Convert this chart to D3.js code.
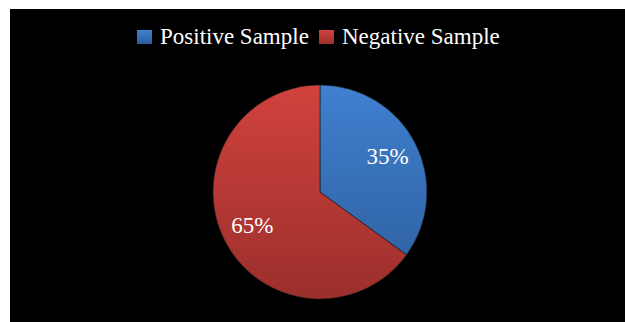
<!DOCTYPE html>
<html>
<head>
<meta charset="utf-8">
<script src="https://cdn.jsdelivr.net/npm/d3@7"></script>
<style>
  html, body { margin: 0; padding: 0; background: #ffffff; }
  svg { display: block; }
</style>
</head>
<body>
<svg id="chart" width="625" height="322"></svg>
<script>
// Sample composition
const categories = ["Positive Sample", "Negative Sample"];
const values = [35, 65];
const labels = ["35%", "65%"];
const colorTop = ["#3f80d0", "#d1423e"];
const colorBottom = ["#2d5d9b", "#9b2f2b"];

const svg = d3.select("#chart");
const W = 625, H = 322;

// black chart area
svg.append("rect").attr("x", 10).attr("y", 9).attr("width", W - 10).attr("height", H - 9).attr("fill", "#000");

const defs = svg.append("defs");
categories.forEach((c, i) => {
  const g = defs.append("linearGradient").attr("id", "grad" + i)
    .attr("gradientUnits", "userSpaceOnUse")
    .attr("x1", 0).attr("y1", -107).attr("x2", 0).attr("y2", 107);
  g.append("stop").attr("offset", "0%").attr("stop-color", colorTop[i]);
  g.append("stop").attr("offset", "100%").attr("stop-color", colorBottom[i]);
  const lg = defs.append("linearGradient").attr("id", "lgrad" + i)
    .attr("x1", 0).attr("y1", 0).attr("x2", 0).attr("y2", 1);
  lg.append("stop").attr("offset", "0%").attr("stop-color", colorTop[i]);
  lg.append("stop").attr("offset", "100%").attr("stop-color", colorBottom[i]);
});

const cx = 320, cy = 192, r = 107;
const pie = d3.pie().sort(null).value(d => d)(values);
const arc = d3.arc().innerRadius(0).outerRadius(r);
const labelArc = d3.arc().innerRadius(r * 0.71).outerRadius(r * 0.71);

const g = svg.append("g").attr("transform", `translate(${cx},${cy})`);
g.selectAll("path").data(pie).join("path")
  .attr("d", arc)
  .attr("fill", (d, i) => `url(#grad${i})`)
  .attr("stroke", "#1a1a1a")
  .attr("stroke-width", 0.6);

g.selectAll("text").data(pie).join("text")
  .attr("transform", d => `translate(${labelArc.centroid(d)})`)
  .attr("text-anchor", "middle")
  .attr("dy", "0.3em")
  .attr("font-family", "'Liberation Serif', 'Times New Roman', serif")
  .attr("font-size", 23)
  .attr("fill", "#fff")
  .text((d, i) => labels[i]);

// legend
const legendFont = 23;
const lgX = [137, 319];
const legend = svg.append("g");
categories.forEach((c, i) => {
  legend.append("rect").attr("x", lgX[i]).attr("y", 30).attr("width", 15).attr("height", 14)
    .attr("fill", `url(#lgrad${i})`);
  legend.append("text").attr("x", lgX[i] + 23).attr("y", 44)
    .attr("font-family", "'Liberation Serif', 'Times New Roman', serif")
    .attr("font-size", legendFont)
    .attr("fill", "#fff")
    .text(c);
});
</script>
</body>
</html>
